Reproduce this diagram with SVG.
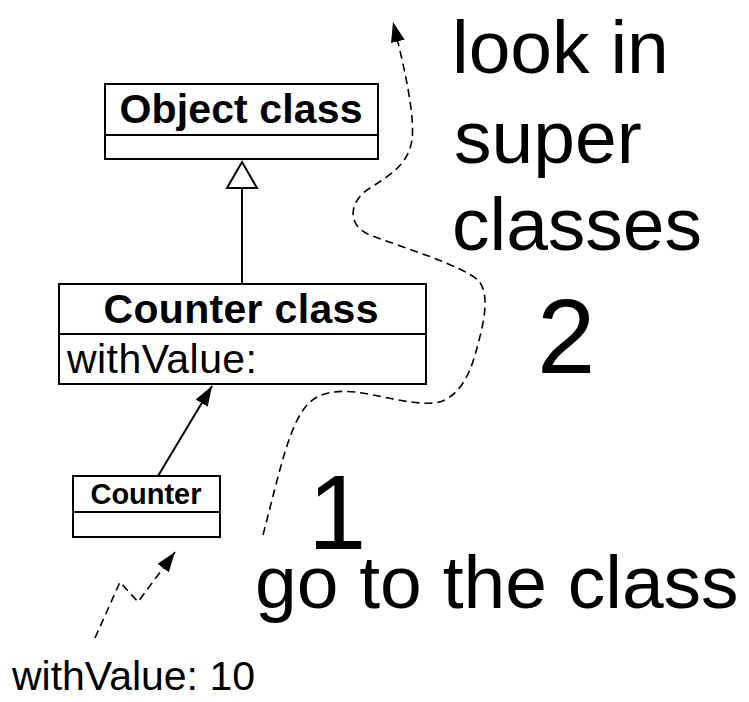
<svg xmlns="http://www.w3.org/2000/svg" width="749" height="702" viewBox="0 0 749 702">
<style>
.box{fill:#fff;stroke:#000;stroke-width:2}
.div{stroke:#000;stroke-width:2}
.title{font-family:"Liberation Sans",Arial,sans-serif;font-weight:bold;text-anchor:middle;fill:#000}
.reg{font-family:"Liberation Sans",Arial,sans-serif;fill:#000}
.big{font-family:"Liberation Sans",Arial,sans-serif;fill:#000}
.solid{fill:none;stroke:#000;stroke-width:2}
.dash{fill:none;stroke:#000;stroke-width:1.6;stroke-dasharray:8 5}
</style>
<defs>
<marker id="ah" viewBox="0 0 20 14" refX="20" refY="7" markerWidth="20" markerHeight="14" markerUnits="userSpaceOnUse" orient="auto">
<path d="M0,0 L20,7 L0,14 z" fill="#000"/>
</marker>
</defs>
<rect width="749" height="702" fill="#fff"/>
<g id="object-class">
<rect class="box" x="105" y="84" width="273" height="75"/>
<line class="div" x1="105" y1="135" x2="378" y2="135"/>
<text class="title" x="241" y="123" font-size="41" textLength="243">Object class</text>
</g>
<g id="counter-class">
<rect class="box" x="59" y="284" width="367" height="100"/>
<line class="div" x1="59" y1="334" x2="426" y2="334"/>
<text class="title" x="241" y="323" font-size="41" textLength="275">Counter class</text>
<text class="reg" x="67" y="373" font-size="41" textLength="190">withValue:</text>
</g>
<g id="counter">
<rect class="box" x="73" y="476" width="147" height="61"/>
<line class="div" x1="73" y1="512" x2="220" y2="512"/>
<text class="title" x="146" y="504" font-size="29" textLength="111">Counter</text>
</g>
<g id="connectors">
<line class="solid" x1="242" y1="284" x2="242" y2="188"/>
<polygon points="242,162 227,188 257,188" fill="#fff" stroke="#000" stroke-width="2"/>
<path class="solid" d="M158,476 L212,386" marker-end="url(#ah)"/>
<path class="dash" d="M95,638 L120,582 L138,602 L175,552" marker-end="url(#ah)"/>
<path class="dash" d="M263,535 C280,470 290,420 310,402 C320,393 335,390 355,392 C380,395 410,405 435,403 C455,400 468,380 475,355 C482,330 492,295 478,280 C460,265 410,250 370,235 C345,225 350,200 370,188 C390,175 408,165 412,140 C415,115 405,70 393,22" marker-end="url(#ah)"/>
</g>
<g id="labels">
<text class="big" x="452" y="73" font-size="75">look in</text>
<text class="big" x="454" y="163" font-size="75">super</text>
<text class="big" x="452" y="250" font-size="75">classes</text>
<text class="big" x="537" y="373" font-size="105">2</text>
<text class="big" x="308" y="549" font-size="105">1</text>
<text class="big" x="255" y="608" font-size="75">go to the class</text>
<text class="reg" x="12" y="690" font-size="41" textLength="243">withValue: 10</text>
</g>
</svg>
